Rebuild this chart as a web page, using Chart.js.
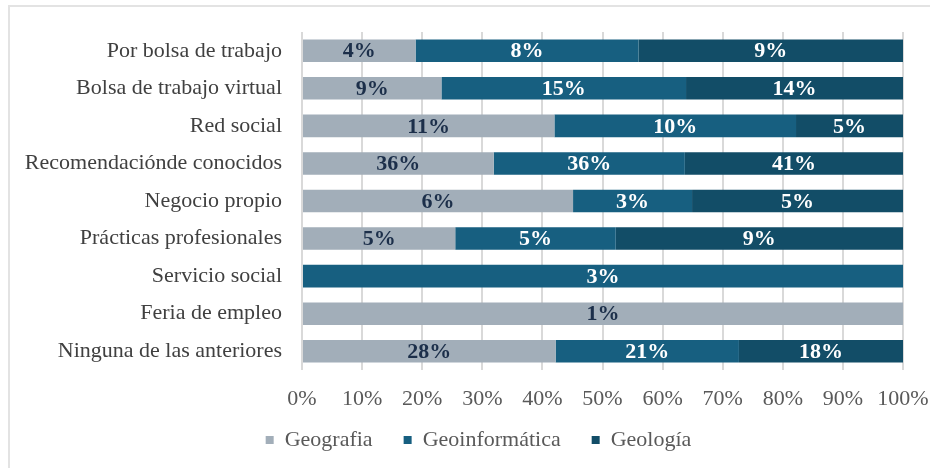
<!DOCTYPE html>
<html>
<head>
<meta charset="utf-8">
<script src="https://cdn.jsdelivr.net/npm/chart.js@4/dist/chart.umd.min.js"></script>
<style>
  html, body { margin: 0; padding: 0; background: #fff; }
  #wrap { position: relative; width: 930px; height: 468px; }
  #frame { position: absolute; left: 8px; top: 5px; right: -10px; bottom: -10px;
           border-top: 2px solid #E3E3E3; border-left: 2px solid #E3E3E3; }
  canvas { position: absolute; left: 0; top: 0; }
</style>
</head>
<body>
<div id="wrap">
  <div id="frame"></div>
  <canvas id="c" width="930" height="468"></canvas>
</div>
<script>
const categories = [
  "Por bolsa de trabajo",
  "Bolsa de trabajo virtual",
  "Red social",
  "Recomendaciónde conocidos",
  "Negocio propio",
  "Prácticas profesionales",
  "Servicio social",
  "Feria de empleo",
  "Ninguna de las anteriores"
];
const seriesNames = ["Geografia", "Geoinformática", "Geología"];

// share of each bar (percent of row)
const geografiaShare      = [18.9, 23.2, 42.0, 31.9, 45.1, 25.5, 0,   100, 42.2];
const geoinformaticaShare = [37.1, 40.7, 40.2, 31.8, 19.8, 26.7, 100, 0,   30.5];
const geologiaShare       = [44.0, 36.1, 17.8, 36.3, 35.1, 47.8, 0,   0,   27.3];

// printed labels on the bars
const geografiaLabels      = ["4%", "9%", "11%", "36%", "6%", "5%", "", "1%", "28%"];
const geoinformaticaLabels = ["8%", "15%", "10%", "36%", "3%", "5%", "3%", "", "21%"];
const geologiaLabels       = ["9%", "14%", "5%", "41%", "5%", "9%", "", "", "18%"];

const xTicks = [0, 10, 20, 30, 40, 50, 60, 70, 80, 90, 100];

const colors = ["#A2AEB9", "#175F80", "#124D67"];
const labelColors = ["#1C2F4A", "#FFFFFF", "#FFFFFF"];
const labelSets = [geografiaLabels, geoinformaticaLabels, geologiaLabels];

const SERIF = "'Liberation Serif', 'Times New Roman', serif";

const barLabels = {
  id: 'barLabels',
  afterDatasetsDraw(chart) {
    const ctx = chart.ctx;
    ctx.save();
    ctx.font = "bold 22px " + SERIF;
    ctx.textAlign = 'center';
    ctx.textBaseline = 'middle';
    chart.data.datasets.forEach((ds, di) => {
      const meta = chart.getDatasetMeta(di);
      meta.data.forEach((bar, i) => {
        const txt = labelSets[di][i];
        if (!txt) return;
        const p = bar.getProps(['x', 'y', 'base'], true);
        const cx = (p.x + p.base) / 2;
        ctx.fillStyle = labelColors[di];
        ctx.fillText(txt, cx, p.y + 1);
      });
    });
    ctx.restore();
  }
};

// keep the wide horizontal spacing between legend items without a tall legend box,
// and let tick labels draw past their (tight) axis boxes
const layoutTweaks = {
  id: 'layoutTweaks',
  beforeLayout(chart) {
    const lg = chart.legend;
    if (lg && !lg._hWrapped) {
      const orig = lg.fit;
      lg.fit = function () { orig.call(this); this.height = 60; };
      lg._hWrapped = true;
    }
  },
  beforeDraw(chart) {
    ['x', 'y'].forEach(id => {
      const s = chart.scales[id];
      if (s) s._computeLabelArea = function () { return undefined; };
    });
  }
};

new Chart(document.getElementById('c'), {
  type: 'bar',
  data: {
    labels: categories,
    datasets: [
      { label: seriesNames[0], data: geografiaShare, backgroundColor: colors[0] },
      { label: seriesNames[1], data: geoinformaticaShare, backgroundColor: colors[1] },
      { label: seriesNames[2], data: geologiaShare, backgroundColor: colors[2] }
    ]
  },
  options: {
    indexAxis: 'y',
    responsive: false,
    animation: false,
    devicePixelRatio: 1,
    layout: { padding: { top: 32, right: 27, bottom: 10, left: 54 } },
    datasets: { bar: { categoryPercentage: 0.6, barPercentage: 1.0, borderWidth: 0 } },
    scales: {
      x: {
        stacked: true, min: 0, max: 100,
        afterBuildTicks(scale) { scale.ticks = xTicks.map(v => ({ value: v })); },
        ticks: {
          callback: v => v + '%',
          color: '#595959',
          font: { family: SERIF, size: 22 },
          padding: 16
        },
        grid: { color: '#D9D9D9', lineWidth: 2, drawTicks: false },
        border: { display: false },
        afterFit(scale) { scale.height = 28; scale.paddingLeft = 0; scale.paddingRight = 0; }
      },
      y: {
        stacked: true,
        ticks: {
          color: '#404040',
          font: { family: SERIF, size: 22 },
          padding: 20
        },
        grid: { display: false, drawTicks: false },
        border: { display: false },
        afterFit(scale) { scale.width = 248; scale.paddingTop = 0; scale.paddingBottom = 0; }
      }
    },
    plugins: {
      legend: {
        position: 'bottom',
        labels: {
          boxWidth: 8, boxHeight: 8,
          color: '#595959',
          font: { family: SERIF, size: 22 },
          padding: 31
        }
      },
      tooltip: { enabled: false }
    }
  },
  plugins: [layoutTweaks, barLabels]
});
</script>
</body>
</html>
